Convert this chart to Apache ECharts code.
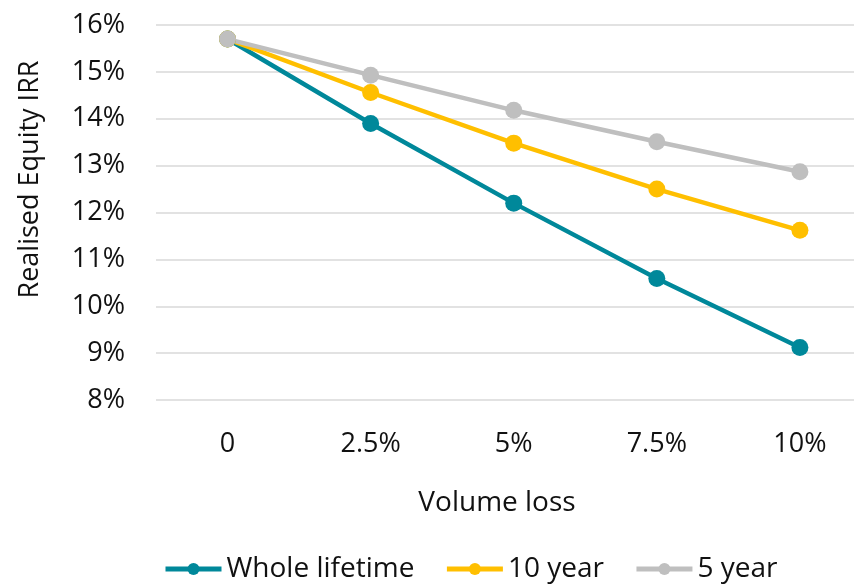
<!DOCTYPE html>
<html>
<head>
<meta charset="utf-8">
<script src="https://cdn.jsdelivr.net/npm/echarts@6/dist/echarts.min.js"></script>
<style>html,body{margin:0;padding:0;background:#fff}#c{width:854px;height:584px}</style>
</head>
<body>
<div id="c"></div>
<script>
var categories = ['0', '2.5%', '5%', '7.5%', '10%'];
var seriesNames = ['Whole lifetime', '10 year', '5 year'];
var wholeLifetime = [15.70, 13.90, 12.20, 10.59, 9.12];
var tenYear = [15.70, 14.56, 13.48, 12.50, 11.62];
var fiveYear = [15.70, 14.93, 14.18, 13.51, 12.87];
var yTicks = {min: 8, max: 16, interval: 1};
var colors = ['#00889A', '#FFBF00', '#BFBFBF'];

var font = '"Open Sans", "Noto Sans", sans-serif';
var chart = echarts.init(document.getElementById('c'));
var catIdx = categories.map(function (c, i) { return i; });
function mk(name, data, color) {
  return {
    name: name, type: 'line',
    data: data.map(function (v, i) { return [catIdx[i], v]; }),
    symbol: 'circle', symbolSize: 17,
    itemStyle: {color: color},
    lineStyle: {color: color, width: 4.5},
    emphasis: {disabled: true}
  };
}
chart.setOption({
  animation: false,
  textStyle: {fontFamily: font},
  grid: {left: 156, right: 0, top: 25, bottom: 184},
  legend: {
    left: 158, bottom: -4,
    itemWidth: 56, itemHeight: 15, itemGap: 30,
    lineStyle: {width: 5},
    textStyle: {fontSize: 28, color: '#111', fontFamily: font},
    data: seriesNames
  },
  xAxis: {
    type: 'value', min: -0.5, max: 4.378,
    splitLine: {show: false},
    axisLine: {show: false}, axisTick: {show: false},
    axisLabel: {
      fontSize: 27, color: '#111', margin: 31, fontFamily: font,
      customValues: catIdx,
      formatter: function (v) { return categories[Math.round(v)]; }
    },
    name: 'Volume loss', nameLocation: 'middle', nameGap: 89,
    nameTextStyle: {fontSize: 28, color: '#111', fontFamily: font, padding: [0, 16, 0, 0]}
  },
  yAxis: {
    type: 'value', min: yTicks.min, max: yTicks.max, interval: yTicks.interval,
    axisLabel: {fontSize: 27, color: '#111', margin: 31, formatter: '{value}%', fontFamily: font},
    splitLine: {lineStyle: {color: '#D9D9D9', width: 1.5}},
    axisLine: {show: false}, axisTick: {show: false},
    name: 'Realised Equity IRR', nameLocation: 'middle', nameGap: 112, nameRotate: 90,
    nameTextStyle: {fontSize: 27, color: '#111', fontFamily: font, padding: [0, 0, 0, 66]}
  },
  series: [
    mk(seriesNames[0], wholeLifetime, colors[0]),
    mk(seriesNames[1], tenYear, colors[1]),
    mk(seriesNames[2], fiveYear, colors[2])
  ]
});
</script>
</body>
</html>
